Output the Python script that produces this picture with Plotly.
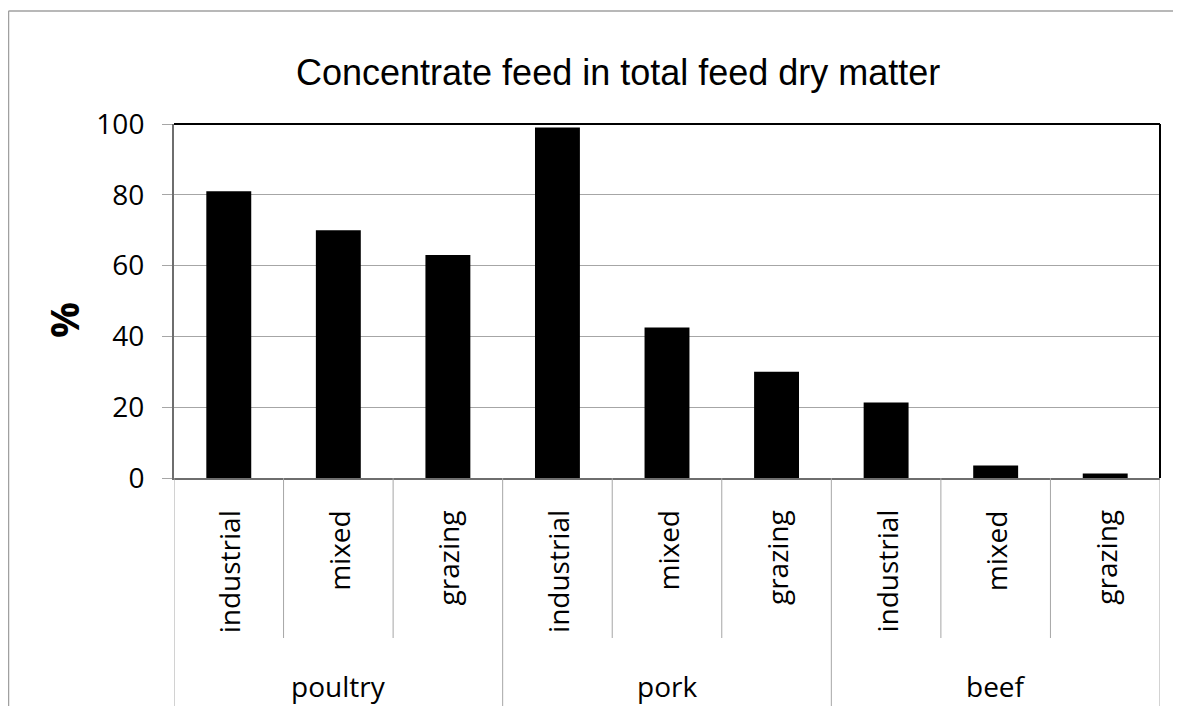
import plotly.graph_objects as go

groups = ["poultry", "pork", "beef"]
systems = ["industrial", "mixed", "grazing"]
values = [81, 70, 63, 99, 42.5, 30, 21.3, 3.5, 1.3]
title_text = "Concentrate feed in total feed dry matter"
y_title = "%"
y_ticks = [0, 20, 40, 60, 80, 100]

OFF = 8  # page body margin
W, H = 1181 - OFF, 706 - OFF
L, T = 174 - OFF, 124 - OFF
PW, PH = 986, 354
R = W - L - PW
B = H - T - PH

def py(p):  # page pixel y -> paper y
    return (T + PH - (p - OFF)) / PH

def px(p):  # page pixel x -> paper x
    return ((p - OFF) - L) / PW

n = len(groups) * len(systems)
xs = list(range(n))
inner_labels = [s for g in groups for s in systems]

LABEL_FONT = "Open Sans, Noto Sans, sans-serif"
GRID = "#a6a6a6"

fig = go.Figure()
fig.add_trace(go.Bar(x=xs, y=values, marker=dict(color="black", line=dict(width=0)),
                     width=0.41, hoverinfo="y"))

shapes = []
annotations = []
for i in range(n + 1):
    is_group = (i % len(systems) == 0)
    shapes.append(dict(type="line", xref="x", yref="paper", x0=i - 0.5, x1=i - 0.5,
                       y0=0, y1=py(638) if not is_group else py(760),
                       line=dict(color=GRID, width=1)))
for i, lab in enumerate(inner_labels):
    annotations.append(dict(x=i, y=py(508), xref="x", yref="paper", text=lab,
                            textangle=-90, showarrow=False, xanchor="center", yanchor="top",
                            font=dict(family=LABEL_FONT, size=28, color="black")))
for gi, g in enumerate(groups):
    annotations.append(dict(x=gi * len(systems) + 1, y=py(686), xref="x", yref="paper", text=g,
                            showarrow=False, xanchor="center", yanchor="middle",
                            font=dict(family=LABEL_FONT, size=28, color="black")))
annotations.append(dict(x=px(618), y=py(72), xref="paper", yref="paper", text=title_text,
                        showarrow=False, xanchor="center", yanchor="middle",
                        font=dict(family="Liberation Sans, Arial, sans-serif", size=36, color="black")))
annotations.append(dict(x=px(63), y=py(320), xref="paper", yref="paper", text="<b>" + y_title + "</b>",
                        textangle=-90, showarrow=False, xanchor="center", yanchor="middle",
                        font=dict(family=LABEL_FONT, size=40, color="black")))
shapes.append(dict(type="line", xref="paper", yref="paper", x0=0, x1=1, y0=1, y1=1,
                   line=dict(color="black", width=2)))
shapes.append(dict(type="line", xref="paper", yref="paper", x0=1, x1=1, y0=0, y1=1,
                   line=dict(color="black", width=2)))
shapes.append(dict(type="line", xref="paper", yref="paper", x0=px(8.5), x1=px(8.5), y0=py(11), y1=py(760),
                   line=dict(color="#a0a0a0", width=1.5)))
shapes.append(dict(type="line", xref="paper", yref="paper", x0=px(8.5), x1=px(1250), y0=py(11), y1=py(11),
                   line=dict(color="#a0a0a0", width=1.5)))

fig.update_layout(
    width=W, height=H, margin=dict(l=L, r=R, t=T, b=B),
    paper_bgcolor="white", plot_bgcolor="white",
    showlegend=False, shapes=shapes, annotations=annotations,
    xaxis=dict(range=[-0.5, n - 0.5], showticklabels=False, showgrid=False, zeroline=False,
               showline=True, linecolor="#6e6e6e", linewidth=2, ticks=""),
    yaxis=dict(range=[0, 100], tickvals=y_ticks, ticktext=[str(v) for v in y_ticks],
               showgrid=True, gridcolor=GRID, gridwidth=1, zeroline=False,
               showline=True, linecolor="#6e6e6e", linewidth=2,
               ticks="outside", ticklen=10, tickcolor=GRID, tickwidth=1,
               ticklabelstandoff=12,
               tickfont=dict(family=LABEL_FONT, size=28, color="black")),
)

fig.write_html("out.html")
